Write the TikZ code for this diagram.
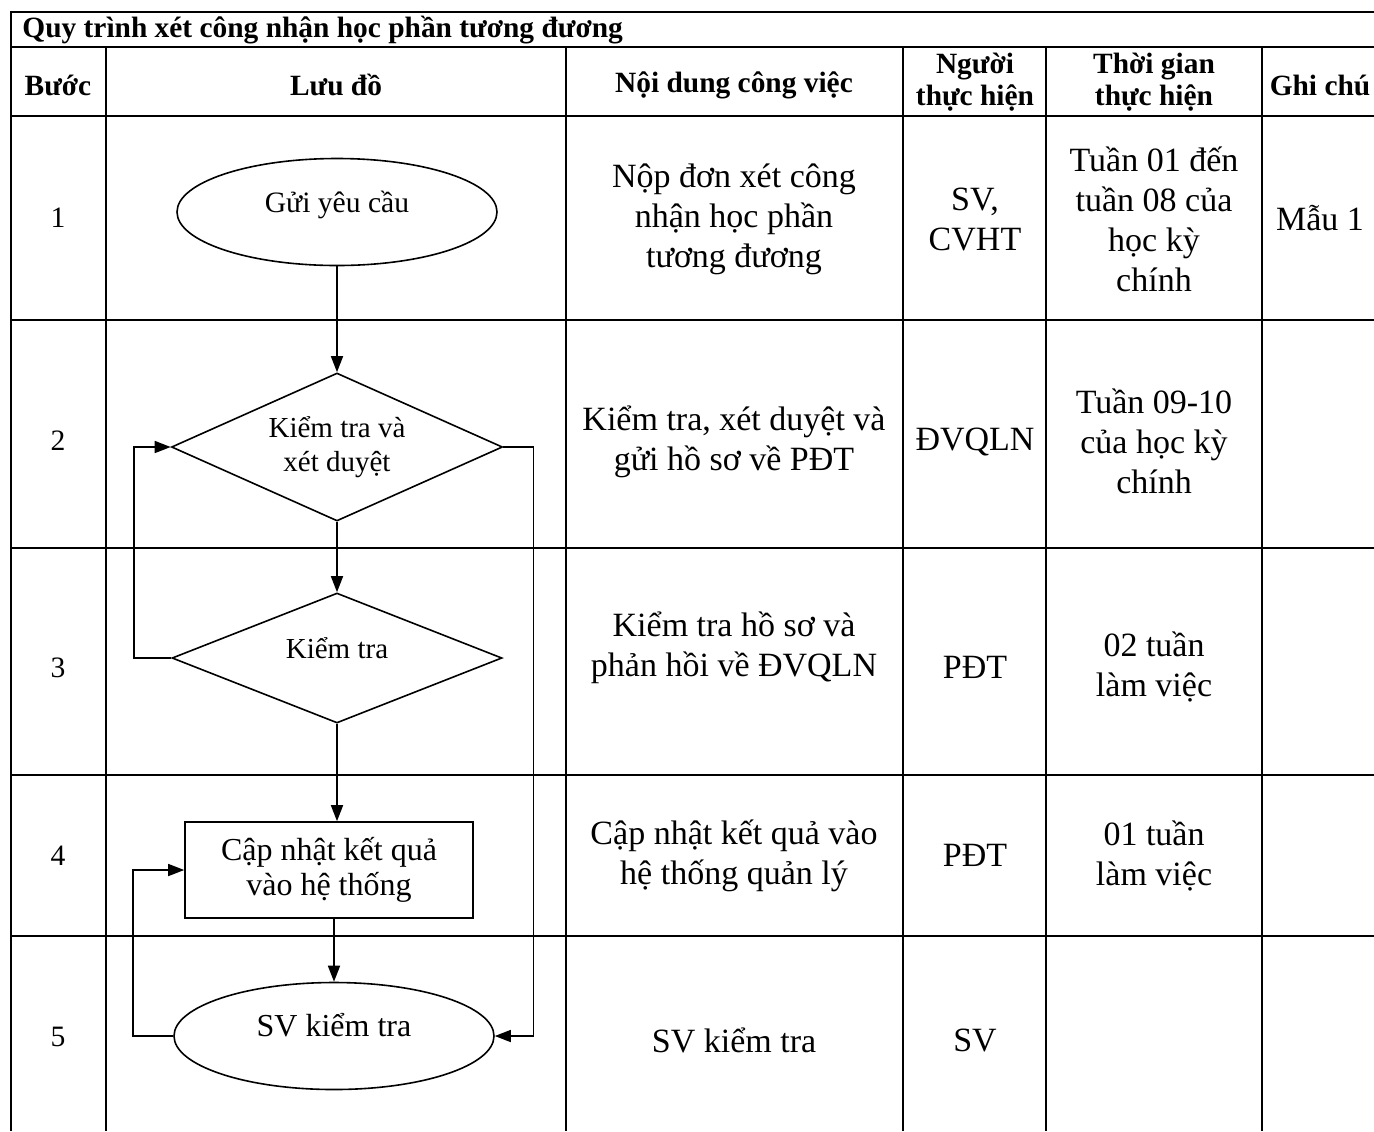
\documentclass[tikz,border=0pt]{standalone}
\usepackage{fontspec}
\setmainfont{Liberation Serif}
\usetikzlibrary{shapes,arrows.meta}

\newcommand{\fsz}[2]{\fontsize{#1}{#2}\selectfont}

\begin{document}
\begin{tikzpicture}[
  x=0.5pt, y=-0.5pt,
  grid/.style={line width=1.2pt},
  title/.style={font=\bfseries\fsz{14.7}{16}, anchor=west, inner sep=0pt},
  head/.style={font=\bfseries\fsz{14.7}{16}, align=center, inner sep=0pt},
  cell/.style={font=\fsz{17}{20}, align=center, inner sep=0pt},
  num/.style={font=\fsz{14.8}{17}, inner sep=0pt},
  onbase/.style={text height=#1, text depth=#1},
  terminal/.style={ellipse, draw, line width=0.8pt, minimum width=160pt, minimum height=53.5pt, inner sep=1pt},
  decision/.style={diamond, draw, line width=0.8pt, aspect=2.2, inner sep=1pt, align=center, font=\fsz{14.5}{17}},
  process/.style={rectangle, draw, line width=0.8pt, minimum width=144pt, minimum height=48pt, align=center, font=\fsz{16}{17.5}},
  arrow/.style={-{Triangle[length=8pt, width=6pt]}, line width=0.8pt}
]
\useasboundingbox (0,0) rectangle (1374,1131);

% table frame and rules
\draw[grid] (1374,12) -- (11,12) -- (11,1131);
\draw[grid] (11,47) -- (1374,47);
\draw[grid] (11,116) -- (1374,116);
\draw[grid] (11,320) -- (1374,320);
\draw[grid] (11,548) -- (1374,548);
\draw[grid] (11,775) -- (1374,775);
\draw[grid] (11,936) -- (1374,936);
\draw[grid] (106,47) -- (106,1131);
\draw[grid] (566,47) -- (566,1131);
\draw[grid] (903,47) -- (903,1131);
\draw[grid] (1046,47) -- (1046,1131);
\draw[grid] (1262,47) -- (1262,1131);

% title and header row
\node[title] (tieude) at (22,30) {Quy trình xét công nhận học phần tương đương};
\node[head] (hbuoc) at (58,85) {Bước};
\node[head] (hluudo) at (336,85) {Lưu đồ};
\node[head] (hnoidung) at (734,85) {Nội dung công việc};
\node[head] (hnguoi) at (975,82) {Người\\thực hiện};
\node[head] (hthoigian) at (1154,82) {Thời gian\\thực hiện};
\node[head] (hghichu) at (1320,85) {Ghi chú};

% step numbers
\node[num] (b1) at (58,218) {1};
\node[num] (b2) at (58,441) {2};
\node[num] (b3) at (58,668) {3};
\node[num] (b4) at (58,856) {4};
\node[num] (b5) at (58,1037) {5};

% task descriptions
\node[cell] (nd1) at (734,219) {Nộp đơn xét công\\nhận học phần\\tương đương};
\node[cell] (nd2) at (734,442) {Kiểm tra, xét duyệt và\\gửi hồ sơ về PĐT};
\node[cell] (nd3) at (734,648) {Kiểm tra hồ sơ và\\phản hồi về ĐVQLN};
\node[cell] (nd4) at (734,856) {Cập nhật kết quả vào\\hệ thống quản lý};
\node[cell] (nd5) at (734,1040) {SV kiểm tra};

% who does it
\node[cell] (ng1) at (975,219) {SV,\\CVHT};
\node[cell] (ng2) at (975,442) {ĐVQLN};
\node[cell] (ng3) at (975,667) {PĐT};
\node[cell] (ng4) at (975,855) {PĐT};
\node[cell] (ng5) at (975,1040) {SV};

% deadlines and notes
\node[cell] (tg1) at (1154,219) {Tuần 01 đến\\tuần 08 của\\học kỳ\\chính};
\node[cell] (tg2) at (1154,441) {Tuần 09-10\\của học kỳ\\chính};
\node[cell] (tg3) at (1154,667) {02 tuần\\làm việc};
\node[cell] (tg4) at (1154,856) {01 tuần\\làm việc};
\node[cell] (gc1) at (1320,218) {Mẫu 1};

% flowchart
\node[terminal, onbase=11pt, font=\fsz{14.8}{17}] (gui) at (337,212) {Gửi yêu cầu};
\node[decision, minimum width=165.5pt, minimum height=74pt] (ktxd) at (337,447) {Kiểm tra và\\xét duyệt};
\node[decision, onbase=10pt, minimum width=165pt, minimum height=65pt] (kt) at (337,658) {Kiểm tra};
\node[process] (capnhat) at (329,870) {Cập nhật kết quả\\vào hệ thống};
\node[terminal, onbase=11pt, font=\fsz{16}{18}] (svkt) at (334,1036) {SV kiểm tra};

\draw[arrow] (gui) -- (ktxd);
\draw[arrow] (ktxd) -- (kt);
\draw[arrow] (kt.south) -- (kt.south |- capnhat.north);
\draw[arrow] (svkt.north |- capnhat.south) -- (svkt.north);
% loops back
\draw[arrow] (kt.west) -- ++(-37,0) |- (ktxd.west);
\draw[arrow] (ktxd.east) -- ++(30,0) |- (svkt.east);
\draw[arrow] (svkt.west) -- ++(-40,0) |- (capnhat.west);
\end{tikzpicture}
\end{document}
